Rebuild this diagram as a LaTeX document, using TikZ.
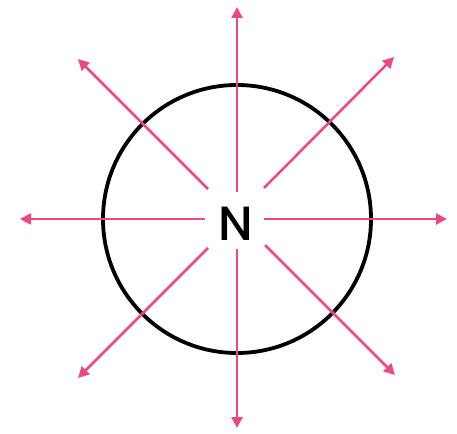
\documentclass[tikz,border=0pt]{standalone}
\usepackage{fontspec}
\setmainfont{Poppins}
\newfontfamily\nfont{Poppins Medium}
\usetikzlibrary{arrows.meta}
\definecolor{rayc}{RGB}{234,72,134}
\tikzset{
  ray/.style={draw=rayc, line width=2.5pt, -{Triangle[length=11pt,width=11pt]}},
  ring/.style={draw=black, line width=3.8pt}
}
\begin{document}
\begin{tikzpicture}[x=1pt,y=-1pt]
\useasboundingbox (0,0) rectangle (457,433);
\coordinate (c) at (237,219);
\draw[ring] (c) circle (134);
\node[font=\nfont\fontsize{48}{48}\selectfont, inner sep=0pt] (n) at (236,224) {N};
\coordinate (s1) at (237,192); \coordinate (e1) at (237,7);
\coordinate (s2) at (237,249); \coordinate (e2) at (237,428);
\coordinate (s3) at (205,219); \coordinate (e3) at (20,219);
\coordinate (s4) at (264,219); \coordinate (e4) at (447,219);
\coordinate (s5) at (208,189); \coordinate (e5) at (78,59);
\coordinate (s6) at (264,188); \coordinate (e6) at (394,57);
\coordinate (s7) at (208,248); \coordinate (e7) at (78,378);
\coordinate (s8) at (265,245); \coordinate (e8) at (395,375);
\foreach \i in {1,...,8} \draw[ray] (s\i) -- (e\i);
\end{tikzpicture}
\end{document}
